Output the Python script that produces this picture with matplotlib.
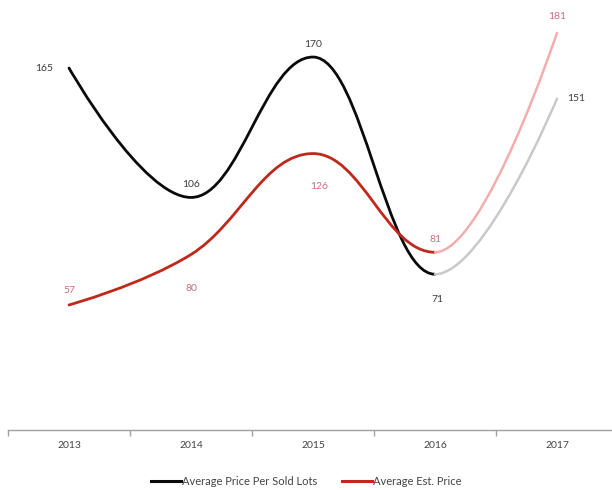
import matplotlib
matplotlib.use("Agg")
import matplotlib.pyplot as plt
from matplotlib.path import Path
from matplotlib.patches import PathPatch
from matplotlib.lines import Line2D

years = ["2013", "2014", "2015", "2016", "2017"]
sold = [165, 106, 170, 71, 151]
est = [57, 80, 126, 81, 181]
series_names = ["Average Price Per Sold Lots", "Average Est. Price"]

plt.rcParams["font.family"] = ["Lato", "DejaVu Sans"]


def spline_controls(xs, ys, smoothing=1.5):
    # highcharts-like spline: control points, flat tangent at local extremes
    n = len(xs)
    left = [(xs[i], ys[i]) for i in range(n)]
    right = [(xs[i], ys[i]) for i in range(n)]
    d = smoothing + 1
    for i in range(1, n - 1):
        x, y = xs[i], ys[i]
        lx, ly, nx, ny = xs[i - 1], ys[i - 1], xs[i + 1], ys[i + 1]
        lcx, lcy = (smoothing * x + lx) / d, (smoothing * y + ly) / d
        rcx, rcy = (smoothing * x + nx) / d, (smoothing * y + ny) / d
        corr = (rcy - lcy) * (rcx - x) / (rcx - lcx) + y - rcy
        lcy += corr
        rcy += corr
        if lcy > ly and lcy > y:
            lcy = max(ly, y); rcy = 2 * y - lcy
        elif lcy < ly and lcy < y:
            lcy = min(ly, y); rcy = 2 * y - lcy
        if rcy > ny and rcy > y:
            rcy = max(ny, y); lcy = 2 * y - rcy
        elif rcy < ny and rcy < y:
            rcy = min(ny, y); lcy = 2 * y - rcy
        left[i] = (lcx, lcy)
        right[i] = (rcx, rcy)
    return left, right


def draw_spline(ax, ys, start, stop, color, lw):
    xs = list(range(len(ys)))
    left, right = spline_controls(xs, ys)
    verts = [(xs[start], ys[start])]
    codes = [Path.MOVETO]
    for i in range(start, stop):
        verts += [right[i], left[i + 1], (xs[i + 1], ys[i + 1])]
        codes += [Path.CURVE4] * 3
    ax.add_patch(PathPatch(Path(verts, codes), fill=False, edgecolor=color,
                           lw=lw, capstyle="round", joinstyle="round", zorder=3))


fig = plt.figure(figsize=(6.12, 4.9), dpi=100)
ax = fig.add_axes([8 / 612, 60 / 490, 610 / 612, 430 / 490])
ax.set_xlim(-0.5, len(years) - 0.5)
ax.set_ylim(0, 196)

# solid part up to 2016, faded segment into 2017
draw_spline(ax, sold, 0, 3, "#0a0a0a", 2.0)
draw_spline(ax, sold, 3, 4, "#c9c9c9", 1.8)
draw_spline(ax, est, 0, 3, "#c0281a", 2.0)
draw_spline(ax, est, 3, 4, "#f2aeae", 1.8)

# data labels (offsets in pixels)
dark_lbl, red_lbl = "#3c3c3c", "#c8707c"
sold_off = [(-16, 0, "right", "center"), (0, 13, "center", "center"),
            (0, 13, "center", "center"), (2, -25, "center", "center"),
            (10, 0, "left", "center")]
est_off = [(0, 14, "center", "center"), (0, -34, "center", "center"),
           (6, -33, "center", "center"), (0, 13, "center", "center"),
           (0, 16, "center", "center")]
for i, v in enumerate(sold):
    dx, dy, ha, va = sold_off[i]
    ax.annotate(str(v), (i, v), xytext=(dx, dy), textcoords="offset pixels",
                ha=ha, va=va, fontsize=7.5, color=dark_lbl, zorder=4)
for i, v in enumerate(est):
    dx, dy, ha, va = est_off[i]
    ax.annotate(str(v), (i, v), xytext=(dx, dy), textcoords="offset pixels",
                ha=ha, va=va, fontsize=7.5, color=red_lbl, zorder=4)

for s in ["top", "left", "right"]:
    ax.spines[s].set_visible(False)
ax.spines["bottom"].set_color("#a0a0a0")
ax.spines["bottom"].set_linewidth(1.0)
ax.set_yticks([])
ax.set_xticks(range(len(years)))
ax.set_xticklabels(years, fontsize=7.5, color="#444444")
ax.tick_params(axis="x", which="major", length=0, pad=8)
ax.set_xticks([i - 0.5 for i in range(len(years) + 1)], minor=True)
ax.tick_params(axis="x", which="minor", length=4, color="#a0a0a0", width=1)

handles = [Line2D([], [], color="#0a0a0a", lw=2.2),
           Line2D([], [], color="#c0281a", lw=2.2)]
fig.legend(handles, series_names, loc="center", bbox_to_anchor=(0.5, 9 / 490),
           ncol=2, frameon=False, handlelength=2.7, handletextpad=0.1,
           columnspacing=2.2, labelcolor="#444444", prop={"size": 8})

fig.savefig("out.png", dpi=100)
